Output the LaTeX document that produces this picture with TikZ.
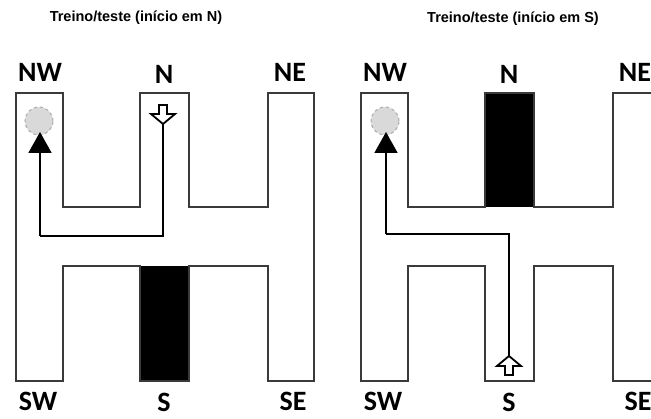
\documentclass[tikz,border=0pt]{standalone}
\usepackage{fontspec}
\setmainfont{Liberation Sans}
\newfontfamily\armfont{Carlito}
\usetikzlibrary{arrows.meta}
\definecolor{wallgray}{HTML}{3A3A3A}
\definecolor{goalfill}{HTML}{D9D9D9}
\definecolor{goalline}{HTML}{AAAAAA}
\tikzset{
  wall/.style={draw=wallgray, line width=1.8pt, line join=miter},
  blocked/.style={fill=black},
  route/.style={draw=black, line width=1.8pt},
  armlabel/.style={font=\armfont\bfseries\fontsize{28}{28}\selectfont, anchor=base, inner sep=0pt},
  heading/.style={font=\bfseries\fontsize{14.5}{15}\selectfont, anchor=base, inner sep=0pt},
  goal/.style={circle, fill=goalfill, draw=goalline, dashed, line width=1pt, minimum size=28pt, inner sep=0pt},
  goaltip/.style={-{Triangle[width=23pt,length=21pt]}},
  % hollow block arrow marking the start arm, pointing down before rotation
  pics/startmark/.style={code={
    \draw[black, fill=white, line width=1.8pt, line join=miter]
      (-4,-9) -- (4,-9) -- (4,0) -- (12,0) -- (0,10) -- (-12,0) -- (-4,0) -- cycle;
    \coordinate (-tip) at (0,10);}}
}
% outline of the H-shaped maze, in local coordinates
\newcommand\mazewalls{%
  \draw[wall] (16,93) -- (63,93) -- (63,207) -- (140,207) -- (140,93) -- (189,93)
    -- (189,207) -- (268,207) -- (268,93) -- (314,93) -- (314,381) -- (268,381)
    -- (268,266) -- (189,266) -- (189,381) -- (140,381) -- (140,266) -- (63,266)
    -- (63,381) -- (16,381) -- cycle;}
% arm names around the maze
\newcommand\armnames[1]{%
  \node[armlabel] (#1NW) at (40,82) {NW};
  \node[armlabel] (#1N)  at (164,84) {N};
  \node[armlabel] (#1NE) at (290,82) {NE};
  \node[armlabel] (#1SW) at (38,411) {SW};
  \node[armlabel] (#1S)  at (164,412) {S};
  \node[armlabel] (#1SE) at (293,411) {SE};}
\begin{document}
\begin{tikzpicture}[x=1pt,y=-1pt]
\useasboundingbox (0,0) rectangle (651,419);
\clip (0,0) rectangle (651,419);

% start at N, the S arm is closed
\node[heading] (titleN) at (136,22) {Treino/teste (início em N)};
\begin{scope}
  \fill[blocked] (140,266) rectangle (189,381);
  \mazewalls
  \armnames{L}
  \node[goal] (Lgoal) at (39,121) {};
  \pic (Lstart) at (163,114) {startmark};
  \coordinate (Lturn) at (163,236);
  \coordinate (Lcorner) at (40,236);
  \draw[route] (Lstart-tip) -- (Lturn) -- (Lcorner);
  \draw[route, goaltip] (Lcorner) -- (40,132);
\end{scope}

% start at S, the N arm is closed
\node[heading] (titleS) at (513,23) {Treino/teste (início em S)};
\begin{scope}[xshift=345pt]
  \fill[blocked] (140,93) rectangle (189,207);
  \mazewalls
  \armnames{R}
  \node[goal] (Rgoal) at (40,121) {};
  \pic[rotate=180] (Rstart) at (164,366) {startmark};
  \coordinate (Rturn) at (164,234);
  \coordinate (Rcorner) at (41,234);
  \draw[route] (Rstart-tip) -- (Rturn) -- (Rcorner);
  \draw[route, goaltip] (Rcorner) -- (41,132);
\end{scope}
\end{tikzpicture}
\end{document}
